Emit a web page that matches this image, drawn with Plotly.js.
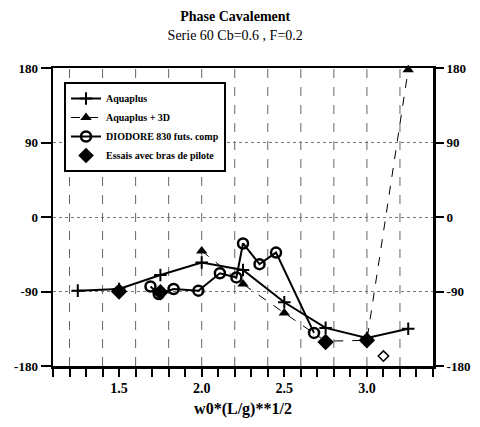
<!DOCTYPE html>
<html>
<head>
<meta charset="utf-8">
<script src="https://cdn.plot.ly/plotly-3.0.1.min.js"></script>
<style>html,body{margin:0;padding:0;background:#fff;}#chart{width:480px;height:427px;}</style>
</head>
<body>
<div id="chart"></div>
<script>
// Series names
const seriesNames = ["Aquaplus", "Aquaplus + 3D", "DIODORE 830 futs. comp", "Essais avec bras de pilote"];

// Aquaplus
const aquaX = [1.25, 1.5, 1.75, 2.0, 2.25, 2.5, 2.75, 3.0, 3.25];
const aquaY = [-89, -87, -70, -55, -64, -103, -134, -146, -135];

// Aquaplus + 3D
const aqua3dX = [2.0, 2.25, 2.5, 2.75, 3.0, 3.25];
const aqua3dY = [-41, -81, -116, -150, -149, 178];

// DIODORE 830 futs. comp
const diodX = [1.69, 1.74, 1.83, 1.98, 2.11, 2.21, 2.25, 2.35, 2.45, 2.68];
const diodY = [-84, -93, -87, -89, -68, -73, -32, -57, -43, -140];

// Essais
const essX = [1.5, 1.75, 2.75, 3.0, 3.1];
const essY = [-90, -91, -151, -149, -168];

// Axis ticks
const xTickVals = [1.1, 1.2, 1.3, 1.4, 1.5, 1.6, 1.7, 1.8, 1.9, 2.0, 2.1, 2.2, 2.3, 2.4, 2.5, 2.6, 2.7, 2.8, 2.9, 3.0, 3.1, 3.2, 3.3, 3.4];
const xTickText = [" ", " ", " ", " ", "1.5", " ", " ", " ", " ", "2.0", " ", " ", " ", " ", "2.5", " ", " ", " ", " ", "3.0", " ", " ", " ", " "];
const xGridVals = [1.2, 1.4, 1.6, 1.8, 2.0, 2.2, 2.4, 2.6, 2.8, 3.0, 3.2];
const yTickVals = [-180, -90, 0, 90, 180];
const yTickText = ["-180", "-90", "0", "90", "180"];

const serif = "Liberation Serif, Times New Roman, serif";

const traces = [
  {x: aquaX, y: aquaY, name: seriesNames[0], mode: "lines+markers",
   line: {color: "#000", width: 2},
   marker: {symbol: "cross-thin-open", size: 9, color: "#000", line: {color: "#000", width: 2}}},
  {x: aqua3dX, y: aqua3dY, name: seriesNames[1], mode: "lines+markers",
   line: {color: "#000", width: 1, dash: "dash"},
   marker: {symbol: "triangle-up", size: 10, color: "#000"}, cliponaxis: false},
  {x: diodX, y: diodY, name: seriesNames[2], mode: "lines+markers",
   line: {color: "#000", width: 2},
   marker: {symbol: "circle-open", size: 10, color: "#000", line: {color: "#000", width: 2.5}}},
  {x: essX, y: essY, name: seriesNames[3], mode: "markers",
   marker: {symbol: ["diamond", "diamond", "diamond", "diamond", "diamond-open"], size: [11, 11, 11, 11, 8],
            opacity: 1, color: "#000", line: {color: "#000", width: 1.5}}},
  {x: [], y: [], xaxis: "x", yaxis: "y2", showlegend: false, hoverinfo: "skip"}
];

// vertical grid lines built from the grid values, placed through the x axis scale
const gridShapes = xGridVals.map(v => ({
  type: "line", xref: "x", yref: "paper", x0: v, x1: v, y0: 0, y1: 1,
  layer: "below", line: {color: "#666", width: 1, dash: "dash"}
}));

const layout = {
  width: 480, height: 427,
  margin: {l: 53, r: 47, t: 68, b: 61},
  paper_bgcolor: "#fff", plot_bgcolor: "#fff",
  font: {family: serif, color: "#000"},
  showlegend: true,
  shapes: gridShapes,
  title: {text: "<b>Phase Cavalement</b><br>Serie 60 Cb=0.6 , F=0.2", x: 0.49, xanchor: "center", y: 0.95, yanchor: "top",
          font: {family: serif, size: 14, color: "#000"}},
  xaxis: {
    range: [1.1, 3.4], showgrid: false, zeroline: false,
    tickmode: "array", tickvals: xTickVals, ticktext: xTickText,
    ticks: "outside", ticklen: 8, tickwidth: 2, tickcolor: "#000",
    showline: true, linewidth: 2.5, linecolor: "#000", mirror: true,
    tickfont: {family: serif, size: 14, color: "#000", weight: "bold"},
    title: {text: "<b>w0*(L/g)**1/2</b>", font: {family: serif, size: 16, color: "#000"}, standoff: 8}
  },
  yaxis: {
    range: [-180, 180], zeroline: false,
    tickmode: "array", tickvals: yTickVals, ticktext: yTickText,
    ticks: "outside", ticklen: 10, tickwidth: 2, tickcolor: "#000",
    showgrid: true, gridcolor: "#777", gridwidth: 1, griddash: "dot",
    showline: true, linewidth: 2.5, linecolor: "#000", mirror: true,
    tickfont: {family: serif, size: 13, color: "#000", weight: "bold"}
  },
  yaxis2: {
    range: [-180, 180], overlaying: "y", side: "right", anchor: "x",
    tickmode: "array", tickvals: yTickVals, ticktext: yTickText,
    ticks: "outside", ticklen: 10, tickwidth: 2, tickcolor: "#000",
    showgrid: false, zeroline: false, showline: false,
    tickfont: {family: serif, size: 13, color: "#000", weight: "bold"}
  },
  legend: {
    x: 0.029, y: 0.953, xanchor: "left", yanchor: "top",
    bgcolor: "#fff", bordercolor: "#000", borderwidth: 2,
    font: {family: serif, size: 10, color: "#000", weight: "bold"},
    tracegroupgap: 0, itemwidth: 30
  }
};

Plotly.newPlot("chart", traces, layout, {displayModeBar: false, staticPlot: true});
</script>
</body>
</html>
